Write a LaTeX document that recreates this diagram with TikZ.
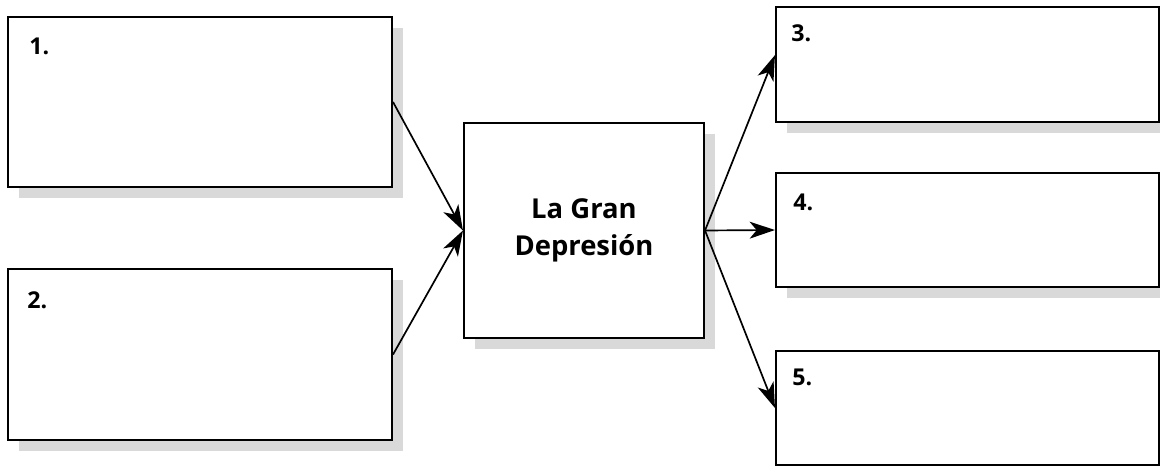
\documentclass[tikz,border=0pt]{standalone}
\usepackage{fontspec}
\setsansfont{Open Sans}
\usetikzlibrary{positioning, arrows.meta, calc, shadows}

\begin{document}
\begin{tikzpicture}[x=0.025cm, y=-0.025cm]
    \tikzset{
        box/.style={
                rectangle, draw=black, line width=1.4pt, fill=white, inner sep=0pt,
                drop shadow={shadow xshift=0.28cm, shadow yshift=-0.28cm, fill=black!15, opacity=1}
            },
        num label/.style={
                font=\sffamily\bfseries\fontsize{16.5}{18}\selectfont, inner sep=0pt
            },
        link/.style={
                line width=1.2pt, -{Stealth[length=18pt, width=12pt, inset=5pt]}
            }
    }

    \useasboundingbox (0,0) rectangle (1160,466);

    % --- causes on the left ---
    \node[box, minimum width=9.6cm, minimum height=4.25cm] (cause1) at (200,102) {};
    \node[box, minimum width=9.6cm, minimum height=4.275cm] (cause2) at (200,354.5) {};

    % --- centre box ---
    \node[box, minimum width=6cm, minimum height=5.375cm, align=center,
        font=\sffamily\bfseries\fontsize{19.5}{26}\selectfont] (crisis) at (584,230.5) {\raisebox{4pt}{La Gran}\\\raisebox{4pt}{Depresi\'on}};

    % --- effects on the right ---
    \node[box, minimum width=9.575cm, minimum height=2.875cm] (effect3) at (967.5,64.5) {};
    \node[box, minimum width=9.575cm, minimum height=2.85cm] (effect4) at (967.5,230) {};
    \node[box, minimum width=9.575cm, minimum height=2.85cm] (effect5) at (967.5,408) {};

    % numbers
    \node[num label, below right=0.55cm and 0.55cm of cause1.north west] (n1) {1.};
    \node[num label, below right=0.575cm and 0.5cm of cause2.north west] (n2) {2.};
    \node[num label, below right=0.45cm and 0.4cm of effect3.north west] (n3) {3.};
    \node[num label, below right=0.55cm and 0.45cm of effect4.north west] (n4) {4.};
    \node[num label, below right=0.475cm and 0.425cm of effect5.north west] (n5) {5.};

    % arrows
    \draw[link] (cause1.east) -- (crisis.west);
    \draw[link] (cause2.east) -- (crisis.west);
    \draw[link] (crisis.east) -- ($(effect3.north west)!0.42!(effect3.south west)$);
    \draw[link] (crisis.east) -- (effect4.west);
    \draw[link] (crisis.east) -- (effect5.west);
\end{tikzpicture}
\end{document}
